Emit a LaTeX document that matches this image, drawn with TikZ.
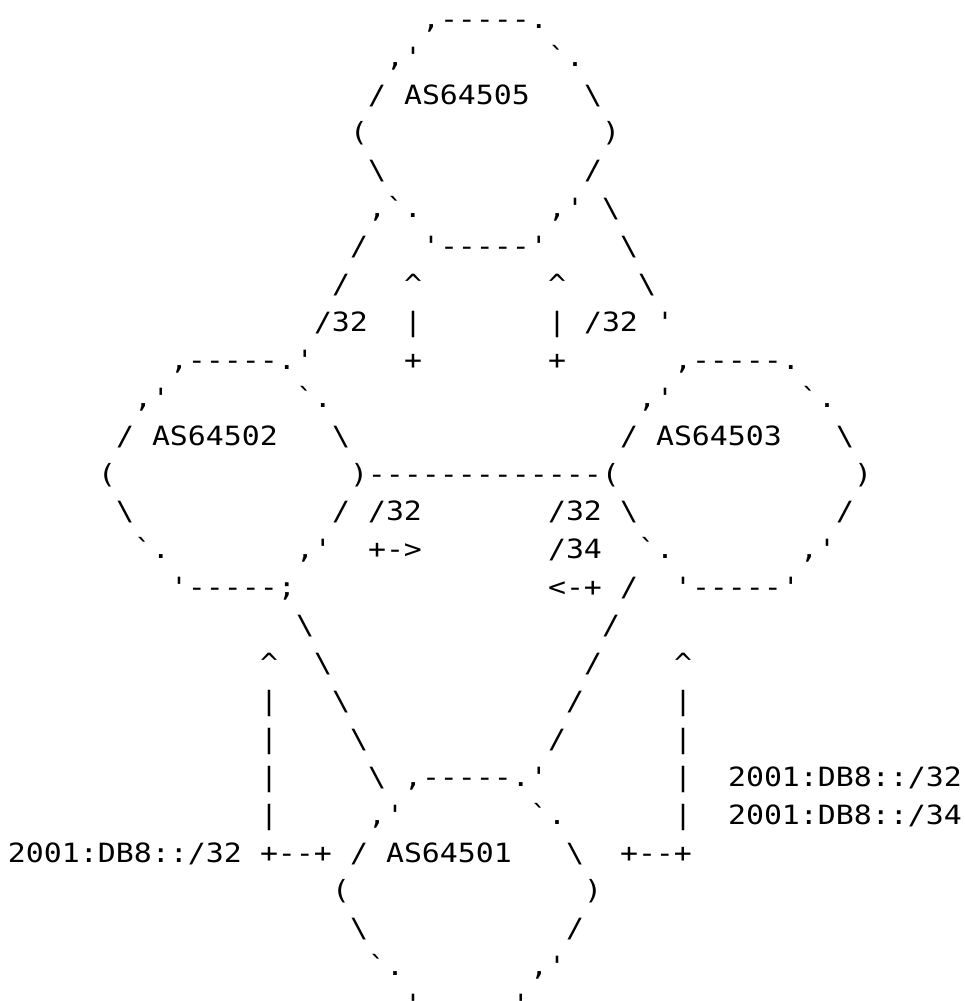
\documentclass[tikz,border=0pt]{standalone}
\usepackage{fontspec}
\setmonofont{DejaVu Sans Mono}[FakeStretch=1.128]
\newcommand\ch[3]{\node[ascii] (r#1c#2) at ({8+#2*18},{-28.2-(#1-1)*37.9}) {#3};}
\newcommand\bs{\textbackslash}
\newcommand\up{\textasciicircum}
\begin{document}
\begin{tikzpicture}[x=1pt,y=1pt,
  ascii/.style={anchor=base west,inner sep=0pt,outer sep=0pt,text=black,
    font=\ttfamily\fontsize{26.5}{30}\selectfont}]
\fill[white] (0,0) rectangle (965,-1001);
\useasboundingbox (0,0) rectangle (965,-1001);
% AS64505
\ch{1}{23}{,-----.}
\ch{2}{21}{,'}\ch{2}{30}{`.}
\ch{3}{20}{/}\ch{3}{22}{AS64505}\ch{3}{32}{\bs}
\ch{4}{19}{(}\ch{4}{33}{)}
\ch{5}{20}{\bs}\ch{5}{32}{/}
\ch{6}{20}{,`.}\ch{6}{30}{,'}\ch{6}{33}{\bs}
\ch{7}{19}{/}\ch{7}{23}{'-----'}\ch{7}{34}{\bs}
\ch{8}{18}{/}\ch{8}{22}{\up}\ch{8}{30}{\up}\ch{8}{35}{\bs}
\ch{9}{17}{/32}\ch{9}{22}{|}\ch{9}{30}{|}\ch{9}{32}{/32}\ch{9}{36}{'}
% AS64502 / AS64503
\ch{10}{9}{,-----.'}\ch{10}{22}{+}\ch{10}{30}{+}\ch{10}{37}{,-----.}
\ch{11}{7}{,'}\ch{11}{16}{`.}\ch{11}{35}{,'}\ch{11}{44}{`.}
\ch{12}{6}{/}\ch{12}{8}{AS64502}\ch{12}{18}{\bs}\ch{12}{34}{/}\ch{12}{36}{AS64503}\ch{12}{46}{\bs}
\ch{13}{5}{(}\ch{13}{19}{)-------------(}\ch{13}{47}{)}
\ch{14}{6}{\bs}\ch{14}{18}{/}\ch{14}{20}{/32}\ch{14}{30}{/32}\ch{14}{34}{\bs}\ch{14}{46}{/}
\ch{15}{7}{`.}\ch{15}{16}{,'}\ch{15}{20}{+->}\ch{15}{30}{/34}\ch{15}{35}{`.}\ch{15}{44}{,'}
\ch{16}{9}{'-----;}\ch{16}{30}{<-+}\ch{16}{34}{/}\ch{16}{37}{'-----'}
\ch{17}{16}{\bs}\ch{17}{33}{/}
\ch{18}{14}{\up}\ch{18}{17}{\bs}\ch{18}{32}{/}\ch{18}{37}{\up}
\ch{19}{14}{|}\ch{19}{18}{\bs}\ch{19}{31}{/}\ch{19}{37}{|}
\ch{20}{14}{|}\ch{20}{19}{\bs}\ch{20}{30}{/}\ch{20}{37}{|}
% AS64501
\ch{21}{14}{|}\ch{21}{20}{\bs}\ch{21}{22}{,-----.'}\ch{21}{37}{|}\ch{21}{40}{2001:DB8::/32}
\ch{22}{14}{|}\ch{22}{20}{,'}\ch{22}{29}{`.}\ch{22}{37}{|}\ch{22}{40}{2001:DB8::/34}
\ch{23}{0}{2001:DB8::/32}\ch{23}{14}{+--+}\ch{23}{19}{/}\ch{23}{21}{AS64501}\ch{23}{31}{\bs}\ch{23}{34}{+--+}
\ch{24}{18}{(}\ch{24}{32}{)}
\ch{25}{19}{\bs}\ch{25}{31}{/}
\ch{26}{20}{`.}\ch{26}{29}{,'}
\ch{27}{22}{'-----'}
\end{tikzpicture}
\end{document}
